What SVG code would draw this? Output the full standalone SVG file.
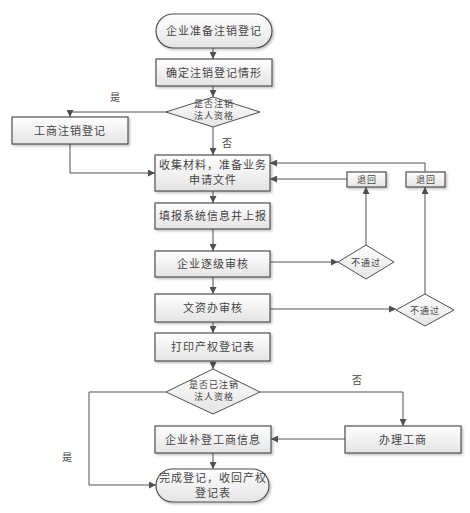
<svg xmlns="http://www.w3.org/2000/svg" width="470" height="513" viewBox="0 0 470 513">
<defs>
<linearGradient id="g" x1="0" y1="0" x2="0" y2="1">
<stop offset="0" stop-color="#ffffff"/>
<stop offset="1" stop-color="#e4e4e4"/>
</linearGradient>
<filter id="sh" x="-10%" y="-20%" width="130%" height="150%">
<feDropShadow dx="1.5" dy="1.5" stdDeviation="0.8" flood-color="#000" flood-opacity="0.25"/>
</filter>
<marker id="ah" viewBox="0 0 8 8" refX="8" refY="4" markerWidth="7" markerHeight="7" markerUnits="userSpaceOnUse" orient="auto">
<path d="M0,0 L8,4 L0,8 z" fill="#505050"/>
</marker>
</defs>
<style>
.n{fill:url(#g);stroke:#505050;stroke-width:1.2;filter:url(#sh)}
.d{fill:url(#g);stroke:#505050;stroke-width:1}
.t{font-family:"Noto Sans CJK SC",sans-serif;font-size:11px;fill:#444;text-anchor:middle;letter-spacing:1px}
.s{font-family:"Noto Sans CJK SC",sans-serif;font-size:9px;fill:#444;text-anchor:middle;letter-spacing:1px}
.l{font-family:"Noto Sans CJK SC",sans-serif;font-size:10px;fill:#444;text-anchor:middle}
.c{fill:none;stroke:#505050;stroke-width:1;marker-end:url(#ah)}
</style>
<g id="connectors">
<path class="c" d="M213,48 L213,59"/>
<path class="c" d="M213,86 L213,97"/>
<path class="c" d="M167,112 L70,112 L70,117"/>
<path class="c" d="M213,127 L213,155"/>
<path class="c" d="M70,144 L70,173 L155,173"/>
<path class="c" d="M213,191 L213,203"/>
<path class="c" d="M213,229 L213,251"/>
<path class="c" d="M270,262 L338,262"/>
<path class="c" d="M366,245 L366,187"/>
<path class="c" d="M347,179 L270,179"/>
<path class="c" d="M213,277 L213,294"/>
<path class="c" d="M270,309 L396,309"/>
<path class="c" d="M425,294 L425,187"/>
<path class="c" d="M425,172 L425,163 L270,163"/>
<path class="c" d="M213,322 L213,333"/>
<path class="c" d="M213,361 L213,369"/>
<path class="c" d="M166,392 L89,392 L89,485 L156,485"/>
<path class="c" d="M260,392 L403,392 L403,426"/>
<path class="c" d="M345,439 L271,439"/>
<path class="c" d="M213,453 L213,469"/>
<text class="l" x="115" y="101">是</text>
<text class="l" x="227" y="147">否</text>
<text class="l" x="357" y="384">否</text>
<text class="l" x="67" y="461">是</text>
</g>
<g id="start">
<rect class="n" x="156" y="14" width="116" height="34" rx="17"/>
<text class="t" x="214" y="35">企业准备注销登记</text>
</g>
<g id="confirm">
<rect class="n" x="156" y="59" width="116" height="27"/>
<text class="t" x="214" y="76.5">确定注销登记情形</text>
</g>
<g id="decision1">
<polygon class="d" points="213,97 260,112 213,127 166,112"/>
<text class="s" x="214" y="107">是否注销</text>
<text class="s" x="214" y="119">法人资格</text>
</g>
<g id="gs-cancel">
<rect class="n" x="12" y="117" width="116" height="27"/>
<text class="t" x="70" y="134.5">工商注销登记</text>
</g>
<g id="collect">
<rect class="n" x="155" y="155" width="115" height="36"/>
<text class="t" x="213" y="169">收集材料，准备业务</text>
<text class="t" x="213" y="184">申请文件</text>
</g>
<g id="fill">
<rect class="n" x="155" y="203" width="115" height="26"/>
<text class="t" x="213" y="220">填报系统信息并上报</text>
</g>
<g id="audit1">
<rect class="n" x="155" y="251" width="115" height="26"/>
<text class="t" x="213" y="268">企业逐级审核</text>
</g>
<g id="fail1">
<polygon class="d" points="366,245 394,262 366,279 338,262"/>
<text class="s" x="366" y="265.5">不通过</text>
</g>
<g id="return1">
<rect class="n" x="347" y="172" width="39" height="15"/>
<text class="s" x="367" y="183">退回</text>
</g>
<g id="audit2">
<rect class="n" x="155" y="294" width="115" height="28"/>
<text class="t" x="213" y="312">文资办审核</text>
</g>
<g id="fail2">
<polygon class="d" points="425,294 454,310 425,326 396,310"/>
<text class="s" x="425" y="313.5">不通过</text>
</g>
<g id="return2">
<rect class="n" x="406" y="172" width="39" height="15"/>
<text class="s" x="426" y="183">退回</text>
</g>
<g id="print">
<rect class="n" x="155" y="333" width="115" height="28"/>
<text class="t" x="213" y="351">打印产权登记表</text>
</g>
<g id="decision2">
<polygon class="d" points="213,369 260,392 213,414 166,392"/>
<text class="s" x="214" y="388">是否已注销</text>
<text class="s" x="214" y="400">法人资格</text>
</g>
<g id="handle">
<rect class="n" x="345" y="426" width="116" height="27"/>
<text class="t" x="403" y="443.5">办理工商</text>
</g>
<g id="supplement">
<rect class="n" x="155" y="426" width="116" height="27"/>
<text class="t" x="213" y="443.5">企业补登工商信息</text>
</g>
<g id="end">
<rect class="n" x="156" y="469" width="113" height="33" rx="16.5"/>
<text class="t" x="213" y="481.5">完成登记，收回产权</text>
<text class="t" x="213" y="496.5">登记表</text>
</g>
</svg>
